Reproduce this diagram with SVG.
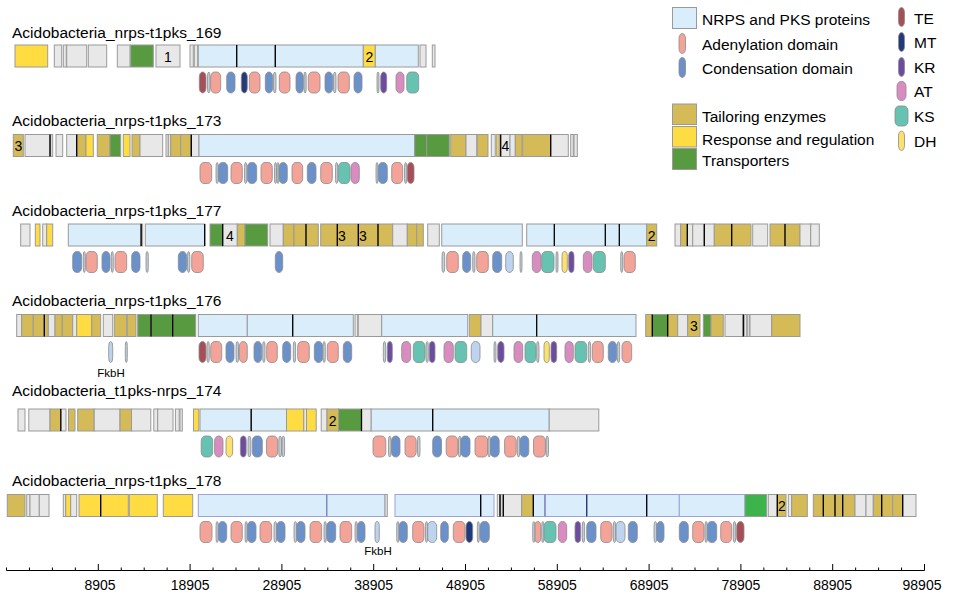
<svg xmlns="http://www.w3.org/2000/svg" width="955" height="601" viewBox="0 0 955 601">
<style>
text{font-family:"Liberation Sans",Arial,sans-serif;fill:#000}
.ttl{font-size:15.5px}
.lg{font-size:15.5px}
.num{font-size:14px;text-anchor:middle}
.fk{font-size:11.5px;text-anchor:middle}
.ax{font-size:14px;text-anchor:middle}
.gn rect{stroke:#9a9a9a;stroke-width:1}
.n{fill:#d9edfa}.x{fill:#e8e8e8}.t{fill:#d4bb57}.y{fill:#ffdc42}.r{fill:#579a40}.g2{fill:#3cb44b}
.nb{fill:#d9edfa;stroke:#9ea2d8!important}
.k{stroke:#000;stroke-width:1.3}
.kb{stroke:#7f82c4;stroke-width:1.3}
.kn{stroke:#22337a;stroke-width:1.3}
.dm rect{stroke:#8a8a8a;stroke-width:0.8}
.A{fill:#f4a398}.C{fill:#6b91ca}.TE{fill:#a64f58}.MT{fill:#223a7a}.KR{fill:#6d4c9f}.AT{fill:#d98cbf}.KS{fill:#66c3b1}.DH{fill:#fde16d}.L{fill:#bed3ee}.s{fill:#c3ced8}
.axl{stroke:#000;stroke-width:1}
</style>

<g id="legend">
  <g class="gn">
    <rect class="n" x="672.5" y="7.5" width="24" height="21"/>
    <rect class="t" x="672.5" y="104" width="24" height="20.5"/>
    <rect class="y" x="672.5" y="126.5" width="24" height="20.5"/>
    <rect class="r" x="672.5" y="148.5" width="24" height="21"/>
  </g>
  <g class="dm">
    <rect class="A" x="679" y="33.5" width="6.5" height="20" rx="3.2" ry="5"/>
    <rect class="C" x="679" y="57.5" width="6.5" height="20" rx="3.2" ry="5"/>
    <rect class="TE" x="898.5" y="7.5" width="6" height="19" rx="3" ry="5"/>
    <rect class="MT" x="898.5" y="32.5" width="6" height="19" rx="3" ry="5"/>
    <rect class="KR" x="898.5" y="57.5" width="6" height="19" rx="3" ry="5"/>
    <rect class="AT" x="897" y="81.5" width="9" height="19" rx="4" ry="5"/>
    <rect class="KS" x="895" y="106" width="13" height="20" rx="4" ry="5"/>
    <rect class="DH" x="898.5" y="131" width="6" height="19.5" rx="3" ry="5"/>
  </g>
  <text class="lg" x="702" y="25">NRPS and PKS proteins</text>
  <text class="lg" x="702" y="50">Adenylation domain</text>
  <text class="lg" x="702" y="74">Condensation domain</text>
  <text class="lg" x="702" y="122">Tailoring enzymes</text>
  <text class="lg" x="702" y="145">Response and regulation</text>
  <text class="lg" x="702" y="166">Transporters</text>
  <text class="lg" x="914" y="24">TE</text>
  <text class="lg" x="914" y="48">MT</text>
  <text class="lg" x="914" y="73">KR</text>
  <text class="lg" x="914" y="97">AT</text>
  <text class="lg" x="914" y="122">KS</text>
  <text class="lg" x="914" y="147">DH</text>
</g>

<!-- Track 1 -->
<g id="cluster-169">
  <text class="ttl" x="12" y="38">Acidobacteria_nrps-t1pks_169</text>
  <g class="gn" transform="translate(0,45)">
    <rect class="y" x="15" y="0" width="32.7" height="22"/>
    <rect class="x" x="54.3" y="0" width="7.4" height="22"/>
    <rect class="x" x="63.3" y="0" width="3" height="22"/>
    <rect class="x" x="66.7" y="0" width="20" height="22"/>
    <rect class="x" x="88.3" y="0" width="18.4" height="22"/>
    <rect class="x" x="117.3" y="0" width="12.7" height="22"/>
    <rect class="r" x="130.7" y="0" width="22.6" height="22"/>
    <rect class="x" x="156" y="0" width="24" height="22"/>
    <rect class="x" x="190" y="0" width="3.3" height="22"/>
    <rect class="x" x="194.3" y="0" width="3.4" height="22"/>
    <rect class="n" x="198.3" y="0" width="38.4" height="22"/>
    <rect class="n" x="236.7" y="0" width="38.6" height="22"/>
    <rect class="n" x="275.3" y="0" width="88" height="22"/>
    <rect class="y" x="363.3" y="0" width="12" height="22"/>
    <rect class="n" x="375.3" y="0" width="43" height="22"/>
    <rect class="x" x="420" y="0" width="6" height="22"/>
    <rect class="x" x="432.3" y="0" width="2.7" height="22"/>
    <line class="k" x1="236.7" y1="0" x2="236.7" y2="22"/>
    <line class="k" x1="275.3" y1="0" x2="275.3" y2="22"/>
    <text class="num" x="168" y="16.5">1</text>
    <text class="num" x="369.3" y="16.5">2</text>
  </g>
  <g class="dm" transform="translate(0,72)">
    <rect class="TE" x="199.3" y="0" width="6.7" height="21" rx="4" ry="5"/>
    <rect class="s" x="207.5" y="0" width="2.5" height="21" rx="4" ry="5"/>
    <rect class="A" x="210.7" y="0" width="10" height="21" rx="4" ry="5"/>
    <rect class="C" x="226.7" y="0" width="8.3" height="21" rx="4" ry="5"/>
    <rect class="MT" x="241.3" y="0" width="6" height="21" rx="4" ry="5"/>
    <rect class="A" x="249.3" y="0" width="10.7" height="21" rx="4" ry="5"/>
    <rect class="C" x="265.3" y="0" width="7.4" height="21" rx="4" ry="5"/>
    <rect class="s" x="273.5" y="0" width="2.5" height="21" rx="4" ry="5"/>
    <rect class="A" x="279.3" y="0" width="10.7" height="21" rx="4" ry="5"/>
    <rect class="C" x="296" y="0" width="7.3" height="21" rx="4" ry="5"/>
    <rect class="s" x="304" y="0" width="2.2" height="21" rx="4" ry="5"/>
    <rect class="A" x="308.3" y="0" width="11.7" height="21" rx="4" ry="5"/>
    <rect class="C" x="325" y="0" width="7.7" height="21" rx="4" ry="5"/>
    <rect class="s" x="333.5" y="0" width="2.5" height="21" rx="4" ry="5"/>
    <rect class="A" x="338" y="0" width="11.3" height="21" rx="4" ry="5"/>
    <rect class="C" x="354" y="0" width="8" height="21" rx="4" ry="5"/>
    <rect class="s" x="377" y="0" width="2" height="21" rx="4" ry="5"/>
    <rect class="KR" x="380.7" y="0" width="6" height="21" rx="4" ry="5"/>
    <rect class="AT" x="396" y="0" width="8" height="21" rx="4" ry="5"/>
    <rect class="KS" x="406.7" y="0" width="12" height="21" rx="4" ry="5"/>
  </g>
</g>

<!-- Track 2 -->
<g id="cluster-173">
  <text class="ttl" x="12" y="126">Acidobacteria_nrps-t1pks_173</text>
  <g class="gn" transform="translate(0,134.5)">
    <rect class="t" x="13.3" y="0" width="10" height="22"/>
    <rect class="x" x="25" y="0" width="25" height="22"/>
    <rect class="x" x="50.7" y="0" width="2" height="22"/>
    <rect class="x" x="56" y="0" width="6.7" height="22"/>
    <rect class="x" x="66.7" y="0" width="10" height="22"/>
    <rect class="t" x="76.7" y="0" width="9.3" height="22"/>
    <rect class="y" x="86" y="0" width="7.3" height="22"/>
    <rect class="t" x="97.3" y="0" width="12.7" height="22"/>
    <rect class="r" x="110" y="0" width="10.7" height="22"/>
    <rect class="y" x="123.3" y="0" width="6.7" height="22"/>
    <rect class="t" x="132" y="0" width="8" height="22"/>
    <rect class="x" x="140" y="0" width="22.7" height="22"/>
    <rect class="x" x="166" y="0" width="2.3" height="22"/>
    <rect class="x" x="168.3" y="0" width="2.4" height="22"/>
    <rect class="t" x="170.7" y="0" width="10" height="22"/>
    <rect class="t" x="180.7" y="0" width="10" height="22"/>
    <rect class="x" x="191.3" y="0" width="7.7" height="22"/>
    <rect class="n" x="199" y="0" width="215.7" height="22"/>
    <rect class="r" x="414.7" y="0" width="12" height="22"/>
    <rect class="r" x="426.7" y="0" width="22.6" height="22"/>
    <rect class="t" x="450.7" y="0" width="15.3" height="22"/>
    <rect class="x" x="466" y="0" width="10.7" height="22"/>
    <rect class="t" x="477.3" y="0" width="10.7" height="22"/>
    <rect class="x" x="491.3" y="0" width="4" height="22"/>
    <rect class="y" x="496.7" y="0" width="2.6" height="22"/>
    <rect class="x" x="499.3" y="0" width="10.7" height="22"/>
    <rect class="x" x="510" y="0" width="5.3" height="22"/>
    <rect class="t" x="515.3" y="0" width="6.7" height="22"/>
    <rect class="t" x="522.7" y="0" width="28" height="22"/>
    <rect class="x" x="550.7" y="0" width="17.6" height="22"/>
    <rect class="x" x="570.7" y="0" width="2.6" height="22"/>
    <rect class="x" x="574" y="0" width="3.3" height="22"/>
    <line class="k" x1="50" y1="0" x2="50" y2="22"/>
    <line class="k" x1="76.7" y1="0" x2="76.7" y2="22"/>
    <line class="k" x1="191.3" y1="0" x2="191.3" y2="22"/>
    <line class="k" x1="500.7" y1="0" x2="500.7" y2="22"/>
    <line class="k" x1="550.7" y1="0" x2="550.7" y2="22"/>
    <text class="num" x="18.3" y="16.5">3</text>
    <text class="num" x="505.5" y="16.5">4</text>
  </g>
  <g class="dm" transform="translate(0,162.5)">
    <rect class="A" x="200" y="0" width="11.7" height="21" rx="4" ry="5"/>
    <rect class="s" x="216" y="0" width="2.3" height="21" rx="4" ry="5"/>
    <rect class="C" x="218.3" y="0" width="9.4" height="21" rx="4" ry="5"/>
    <rect class="A" x="231" y="0" width="11.3" height="21" rx="4" ry="5"/>
    <rect class="s" x="244.5" y="0" width="2.3" height="21" rx="4" ry="5"/>
    <rect class="C" x="247.3" y="0" width="9.4" height="21" rx="4" ry="5"/>
    <rect class="A" x="261" y="0" width="11.3" height="21" rx="4" ry="5"/>
    <rect class="s" x="274.5" y="0" width="2" height="21" rx="4" ry="5"/>
    <rect class="s" x="277" y="0" width="2" height="21" rx="4" ry="5"/>
    <rect class="C" x="279" y="0" width="8.3" height="21" rx="4" ry="5"/>
    <rect class="A" x="292" y="0" width="10.7" height="21" rx="4" ry="5"/>
    <rect class="C" x="307.3" y="0" width="8.7" height="21" rx="4" ry="5"/>
    <rect class="A" x="320.7" y="0" width="11.6" height="21" rx="4" ry="5"/>
    <rect class="s" x="335.5" y="0" width="2.3" height="21" rx="4" ry="5"/>
    <rect class="KS" x="338.3" y="0" width="11.7" height="21" rx="4" ry="5"/>
    <rect class="AT" x="351" y="0" width="8.3" height="21" rx="4" ry="5"/>
    <rect class="s" x="376" y="0" width="2" height="21" rx="4" ry="5"/>
    <rect class="C" x="378.3" y="0" width="9" height="21" rx="4" ry="5"/>
    <rect class="A" x="391.7" y="0" width="11" height="21" rx="4" ry="5"/>
    <rect class="s" x="404.5" y="0" width="2.3" height="21" rx="4" ry="5"/>
    <rect class="TE" x="407.3" y="0" width="6.7" height="21" rx="4" ry="5"/>
  </g>
</g>

<!-- Track 3 -->
<g id="cluster-177">
  <text class="ttl" x="12" y="216">Acidobacteria_nrps-t1pks_177</text>
  <g class="gn" transform="translate(0,224)">
    <rect class="x" x="20.7" y="0" width="9.3" height="22"/>
    <rect class="y" x="35.3" y="0" width="4.7" height="22"/>
    <rect class="x" x="42.7" y="0" width="4" height="22"/>
    <rect class="y" x="46.7" y="0" width="6" height="22"/>
    <rect class="n" x="68.3" y="0" width="72.4" height="22"/>
    <rect class="x" x="140.7" y="0" width="2" height="22"/>
    <rect class="n" x="145.3" y="0" width="59.4" height="22"/>
    <rect class="r" x="210" y="0" width="12.7" height="22"/>
    <rect class="x" x="222.7" y="0" width="14.6" height="22"/>
    <rect class="t" x="237.3" y="0" width="7.7" height="22"/>
    <rect class="r" x="245" y="0" width="22.7" height="22"/>
    <rect class="x" x="270" y="0" width="13.3" height="22"/>
    <rect class="t" x="283.3" y="0" width="10.7" height="22"/>
    <rect class="t" x="294" y="0" width="12" height="22"/>
    <rect class="t" x="306" y="0" width="12.3" height="22"/>
    <rect class="t" x="320.7" y="0" width="16.6" height="22"/>
    <rect class="t" x="337.3" y="0" width="21" height="22"/>
    <rect class="t" x="358.3" y="0" width="19.7" height="22"/>
    <rect class="t" x="378" y="0" width="14.7" height="22"/>
    <rect class="x" x="392.7" y="0" width="14.6" height="22"/>
    <rect class="t" x="407.3" y="0" width="9.4" height="22"/>
    <rect class="t" x="416.7" y="0" width="6.6" height="22"/>
    <rect class="x" x="427.7" y="0" width="11.6" height="22"/>
    <rect class="n" x="441.7" y="0" width="80.6" height="22"/>
    <rect class="n" x="526.7" y="0" width="120" height="22"/>
    <rect class="t" x="646.7" y="0" width="10" height="22"/>
    <rect class="x" x="675" y="0" width="5.7" height="22"/>
    <rect class="t" x="680.7" y="0" width="6.6" height="22"/>
    <rect class="x" x="687.3" y="0" width="5.4" height="22"/>
    <rect class="x" x="692.7" y="0" width="11.6" height="22"/>
    <rect class="x" x="704.3" y="0" width="10" height="22"/>
    <rect class="t" x="714.3" y="0" width="17.4" height="22"/>
    <rect class="t" x="731.7" y="0" width="19.3" height="22"/>
    <rect class="x" x="752.7" y="0" width="15" height="22"/>
    <rect class="t" x="770" y="0" width="15" height="22"/>
    <rect class="t" x="785" y="0" width="15" height="22"/>
    <rect class="x" x="800" y="0" width="10.7" height="22"/>
    <rect class="x" x="810.7" y="0" width="8.6" height="22"/>
    <line class="k" x1="141.2" y1="0" x2="141.2" y2="22"/>
    <line class="k" x1="204.7" y1="0" x2="204.7" y2="22"/>
    <line class="k" x1="222.7" y1="0" x2="222.7" y2="22"/>
    <line class="k" x1="306" y1="0" x2="306" y2="22"/>
    <line class="k" x1="337.3" y1="0" x2="337.3" y2="22"/>
    <line class="k" x1="358.3" y1="0" x2="358.3" y2="22"/>
    <line class="k" x1="378" y1="0" x2="378" y2="22"/>
    <line class="k" x1="554.3" y1="0" x2="554.3" y2="22"/>
    <line class="k" x1="605.3" y1="0" x2="605.3" y2="22"/>
    <line class="k" x1="619.3" y1="0" x2="619.3" y2="22"/>
    <line class="k" x1="687.3" y1="0" x2="687.3" y2="22"/>
    <line class="k" x1="704.3" y1="0" x2="704.3" y2="22"/>
    <line class="k" x1="731.7" y1="0" x2="731.7" y2="22"/>
    <line class="k" x1="785" y1="0" x2="785" y2="22"/>
    <text class="num" x="230" y="16.5">4</text>
    <text class="num" x="342" y="16.5">3</text>
    <text class="num" x="363" y="16.5">3</text>
    <text class="num" x="651.7" y="16.5">2</text>
  </g>
  <g class="dm" transform="translate(0,251.5)">
    <rect class="C" x="72.7" y="0" width="9" height="21" rx="4" ry="5"/>
    <rect class="s" x="83.3" y="0" width="2" height="21" rx="4" ry="5"/>
    <rect class="A" x="86" y="0" width="11.3" height="21" rx="4" ry="5"/>
    <rect class="C" x="102" y="0" width="8" height="21" rx="4" ry="5"/>
    <rect class="s" x="111.3" y="0" width="2" height="21" rx="4" ry="5"/>
    <rect class="A" x="115" y="0" width="11.7" height="21" rx="4" ry="5"/>
    <rect class="C" x="131.7" y="0" width="8.3" height="21" rx="4" ry="5"/>
    <rect class="s" x="146" y="0" width="2.3" height="21" rx="4" ry="5"/>
    <rect class="C" x="178.3" y="0" width="8.4" height="21" rx="4" ry="5"/>
    <rect class="s" x="187.5" y="0" width="2.3" height="21" rx="4" ry="5"/>
    <rect class="A" x="191.7" y="0" width="11.6" height="21" rx="4" ry="5"/>
    <rect class="C" x="275.3" y="0" width="7.4" height="21" rx="4" ry="5"/>
    <rect class="s" x="442" y="0" width="2.7" height="21" rx="4" ry="5"/>
    <rect class="A" x="446.7" y="0" width="11.6" height="21" rx="4" ry="5"/>
    <rect class="C" x="462.7" y="0" width="8" height="21" rx="4" ry="5"/>
    <rect class="s" x="472.7" y="0" width="2.3" height="21" rx="4" ry="5"/>
    <rect class="A" x="476.7" y="0" width="11.6" height="21" rx="4" ry="5"/>
    <rect class="C" x="492.7" y="0" width="9" height="21" rx="4" ry="5"/>
    <rect class="L" x="505.7" y="0" width="7.6" height="21" rx="4" ry="5"/>
    <rect class="s" x="520" y="0" width="2" height="21" rx="4" ry="5"/>
    <rect class="AT" x="532.3" y="0" width="8.7" height="21" rx="4" ry="5"/>
    <rect class="KS" x="541.7" y="0" width="12.3" height="21" rx="4" ry="5"/>
    <rect class="s" x="556" y="0" width="2" height="21" rx="4" ry="5"/>
    <rect class="DH" x="562" y="0" width="5.3" height="21" rx="4" ry="5"/>
    <rect class="KR" x="568.7" y="0" width="5.3" height="21" rx="4" ry="5"/>
    <rect class="AT" x="583.3" y="0" width="8.7" height="21" rx="4" ry="5"/>
    <rect class="KS" x="593.3" y="0" width="12" height="21" rx="4" ry="5"/>
    <rect class="s" x="620.7" y="0" width="2" height="21" rx="4" ry="5"/>
    <rect class="A" x="624" y="0" width="11.3" height="21" rx="4" ry="5"/>
  </g>
</g>

<!-- Track 4 -->
<g id="cluster-176">
  <text class="ttl" x="12" y="306">Acidobacteria_nrps-t1pks_176</text>
  <g class="gn" transform="translate(0,314.5)">
    <rect class="x" x="16.7" y="0" width="5" height="22"/>
    <rect class="t" x="21.7" y="0" width="11.6" height="22"/>
    <rect class="t" x="33.3" y="0" width="11" height="22"/>
    <rect class="t" x="44.3" y="0" width="4" height="22"/>
    <rect class="x" x="48.3" y="0" width="6.7" height="22"/>
    <rect class="t" x="55" y="0" width="7.3" height="22"/>
    <rect class="t" x="62.3" y="0" width="10.4" height="22"/>
    <rect class="x" x="72.7" y="0" width="4" height="22"/>
    <rect class="y" x="76.7" y="0" width="15" height="22"/>
    <rect class="t" x="91.7" y="0" width="9" height="22"/>
    <rect class="x" x="103.3" y="0" width="9.4" height="22"/>
    <rect class="t" x="114.3" y="0" width="12.4" height="22"/>
    <rect class="t" x="127.3" y="0" width="8.7" height="22"/>
    <rect class="r" x="137.7" y="0" width="13.3" height="22"/>
    <rect class="r" x="151" y="0" width="21.7" height="22"/>
    <rect class="r" x="172.7" y="0" width="23" height="22"/>
    <rect class="n" x="198.3" y="0" width="49" height="22"/>
    <rect class="n" x="247.3" y="0" width="45.4" height="22"/>
    <rect class="n" x="292.7" y="0" width="60.6" height="22"/>
    <rect class="x" x="355" y="0" width="2.7" height="22"/>
    <rect class="x" x="358.3" y="0" width="23.4" height="22"/>
    <rect class="n" x="381.7" y="0" width="86" height="22"/>
    <rect class="t" x="469.3" y="0" width="11.7" height="22"/>
    <rect class="x" x="481" y="0" width="11.7" height="22"/>
    <rect class="n" x="492.7" y="0" width="143.3" height="22"/>
    <rect class="t" x="645.7" y="0" width="6.6" height="22"/>
    <rect class="r" x="652.3" y="0" width="15.4" height="22"/>
    <rect class="t" x="667.7" y="0" width="10" height="22"/>
    <rect class="x" x="677.7" y="0" width="10" height="22"/>
    <rect class="t" x="687.7" y="0" width="12.3" height="22"/>
    <rect class="r" x="703.3" y="0" width="7.7" height="22"/>
    <rect class="t" x="711" y="0" width="12.3" height="22"/>
    <rect class="x" x="725" y="0" width="18.3" height="22"/>
    <rect class="x" x="744.3" y="0" width="2.4" height="22"/>
    <rect class="x" x="747.3" y="0" width="2" height="22"/>
    <rect class="x" x="750" y="0" width="21.7" height="22"/>
    <rect class="t" x="771.7" y="0" width="28.3" height="22"/>
    <line class="k" x1="44.3" y1="0" x2="44.3" y2="22"/>
    <line class="k" x1="151" y1="0" x2="151" y2="22"/>
    <line class="k" x1="172.7" y1="0" x2="172.7" y2="22"/>
    <line class="k" x1="292.7" y1="0" x2="292.7" y2="22"/>
    <line class="k" x1="536.7" y1="0" x2="536.7" y2="22"/>
    <line class="k" x1="652.3" y1="0" x2="652.3" y2="22"/>
    <line class="k" x1="667.7" y1="0" x2="667.7" y2="22"/>
    <line class="k" x1="743.3" y1="0" x2="743.3" y2="22"/>
    <text class="num" x="693.8" y="16.5">3</text>
  </g>
  <g class="dm" transform="translate(0,341.5)">
    <rect class="L" x="108.7" y="0" width="4" height="21" rx="4" ry="5"/>
    <rect class="s" x="125.3" y="0" width="2" height="21" rx="4" ry="5"/>
    <rect class="TE" x="199" y="0" width="7" height="21" rx="4" ry="5"/>
    <rect class="s" x="207" y="0" width="2.3" height="21" rx="4" ry="5"/>
    <rect class="A" x="210.7" y="0" width="11" height="21" rx="4" ry="5"/>
    <rect class="C" x="226" y="0" width="8" height="21" rx="4" ry="5"/>
    <rect class="s" x="236" y="0" width="2.5" height="21" rx="4" ry="5"/>
    <rect class="A" x="239.3" y="0" width="8" height="21" rx="4" ry="5"/>
    <rect class="C" x="254" y="0" width="7.7" height="21" rx="4" ry="5"/>
    <rect class="s" x="262.7" y="0" width="2.3" height="21" rx="4" ry="5"/>
    <rect class="A" x="266.7" y="0" width="10.6" height="21" rx="4" ry="5"/>
    <rect class="C" x="282.7" y="0" width="8" height="21" rx="4" ry="5"/>
    <rect class="s" x="293.3" y="0" width="2.3" height="21" rx="4" ry="5"/>
    <rect class="A" x="297.7" y="0" width="11.6" height="21" rx="4" ry="5"/>
    <rect class="C" x="314.3" y="0" width="8.4" height="21" rx="4" ry="5"/>
    <rect class="s" x="323" y="0" width="2.3" height="21" rx="4" ry="5"/>
    <rect class="A" x="327.3" y="0" width="11" height="21" rx="4" ry="5"/>
    <rect class="C" x="343.3" y="0" width="8.4" height="21" rx="4" ry="5"/>
    <rect class="s" x="383.3" y="0" width="2.4" height="21" rx="4" ry="5"/>
    <rect class="KR" x="387.3" y="0" width="5" height="21" rx="4" ry="5"/>
    <rect class="AT" x="401.7" y="0" width="9" height="21" rx="4" ry="5"/>
    <rect class="KS" x="413.3" y="0" width="11.7" height="21" rx="4" ry="5"/>
    <rect class="s" x="426" y="0" width="2.3" height="21" rx="4" ry="5"/>
    <rect class="KR" x="429.3" y="0" width="5.7" height="21" rx="4" ry="5"/>
    <rect class="AT" x="444" y="0" width="9.3" height="21" rx="4" ry="5"/>
    <rect class="KS" x="455" y="0" width="11.7" height="21" rx="4" ry="5"/>
    <rect class="L" x="471.3" y="0" width="8.7" height="21" rx="4" ry="5"/>
    <rect class="s" x="494" y="0" width="2" height="21" rx="4" ry="5"/>
    <rect class="KR" x="497.7" y="0" width="6.3" height="21" rx="4" ry="5"/>
    <rect class="AT" x="514" y="0" width="8.7" height="21" rx="4" ry="5"/>
    <rect class="KS" x="525" y="0" width="11" height="21" rx="4" ry="5"/>
    <rect class="s" x="536.7" y="0" width="2.3" height="21" rx="4" ry="5"/>
    <rect class="DH" x="544" y="0" width="5.3" height="21" rx="4" ry="5"/>
    <rect class="KR" x="551" y="0" width="5.7" height="21" rx="4" ry="5"/>
    <rect class="AT" x="565" y="0" width="8.3" height="21" rx="4" ry="5"/>
    <rect class="KS" x="575" y="0" width="11.7" height="21" rx="4" ry="5"/>
    <rect class="s" x="588.3" y="0" width="2.3" height="21" rx="4" ry="5"/>
    <rect class="A" x="592.3" y="0" width="11" height="21" rx="4" ry="5"/>
    <rect class="C" x="608.3" y="0" width="8.4" height="21" rx="4" ry="5"/>
    <rect class="s" x="617.3" y="0" width="2.4" height="21" rx="4" ry="5"/>
    <rect class="A" x="622" y="0" width="9.7" height="21" rx="4" ry="5"/>
  </g>
  <text class="fk" x="111" y="377">FkbH</text>
</g>

<!-- Track 5 -->
<g id="cluster-174">
  <text class="ttl" x="12" y="396">Acidobacteria_t1pks-nrps_174</text>
  <g class="gn" transform="translate(0,409)">
    <rect class="x" x="18" y="0" width="7" height="22"/>
    <rect class="x" x="28.8" y="0" width="21.2" height="22"/>
    <rect class="t" x="50" y="0" width="10.8" height="22"/>
    <rect class="x" x="60.8" y="0" width="5.2" height="22"/>
    <rect class="t" x="68.5" y="0" width="6.5" height="22"/>
    <rect class="t" x="77.7" y="0" width="16.5" height="22"/>
    <rect class="x" x="94.2" y="0" width="25.8" height="22"/>
    <rect class="t" x="120" y="0" width="11.5" height="22"/>
    <rect class="x" x="131.5" y="0" width="19.3" height="22"/>
    <rect class="x" x="153.8" y="0" width="3.9" height="22"/>
    <rect class="x" x="157.7" y="0" width="15.3" height="22"/>
    <rect class="x" x="175.4" y="0" width="3.8" height="22"/>
    <rect class="x" x="180" y="0" width="2.3" height="22"/>
    <rect class="y" x="193.5" y="0" width="5.3" height="22"/>
    <rect class="n" x="200" y="0" width="51.2" height="22"/>
    <rect class="n" x="251.2" y="0" width="35.3" height="22"/>
    <rect class="y" x="286.5" y="0" width="17.3" height="22"/>
    <rect class="x" x="303.8" y="0" width="2.7" height="22"/>
    <rect class="y" x="306.5" y="0" width="9.7" height="22"/>
    <rect class="x" x="321.2" y="0" width="5.8" height="22"/>
    <rect class="t" x="327" y="0" width="11.5" height="22"/>
    <rect class="r" x="338.5" y="0" width="23" height="22"/>
    <rect class="x" x="361.5" y="0" width="9.7" height="22"/>
    <rect class="n" x="371.2" y="0" width="61.5" height="22"/>
    <rect class="n" x="432.7" y="0" width="116.5" height="22"/>
    <rect class="x" x="549.2" y="0" width="49.6" height="22"/>
    <line class="k" x1="60.8" y1="0" x2="60.8" y2="22"/>
    <line class="k" x1="251.2" y1="0" x2="251.2" y2="22"/>
    <line class="k" x1="361.5" y1="0" x2="361.5" y2="22"/>
    <line class="k" x1="432.7" y1="0" x2="432.7" y2="22"/>
    <text class="num" x="332.7" y="16.5">2</text>
  </g>
  <g class="dm" transform="translate(0,436)">
    <rect class="KS" x="201.2" y="0" width="11.5" height="21" rx="4" ry="5"/>
    <rect class="AT" x="214.6" y="0" width="8.4" height="21" rx="4" ry="5"/>
    <rect class="DH" x="226" y="0" width="6.7" height="21" rx="4" ry="5"/>
    <rect class="KR" x="240.4" y="0" width="5.8" height="21" rx="4" ry="5"/>
    <rect class="s" x="248" y="0" width="2.8" height="21" rx="4" ry="5"/>
    <rect class="C" x="252.3" y="0" width="10" height="21" rx="4" ry="5"/>
    <rect class="A" x="266.5" y="0" width="11.2" height="21" rx="4" ry="5"/>
    <rect class="s" x="278.8" y="0" width="2.7" height="21" rx="4" ry="5"/>
    <rect class="s" x="282" y="0" width="2.6" height="21" rx="4" ry="5"/>
    <rect class="A" x="373" y="0" width="12.8" height="21" rx="4" ry="5"/>
    <rect class="s" x="388.5" y="0" width="2.5" height="21" rx="4" ry="5"/>
    <rect class="C" x="391.5" y="0" width="8.5" height="21" rx="4" ry="5"/>
    <rect class="A" x="405" y="0" width="11.2" height="21" rx="4" ry="5"/>
    <rect class="s" x="417.5" y="0" width="2.5" height="21" rx="4" ry="5"/>
    <rect class="C" x="432.7" y="0" width="8.8" height="21" rx="4" ry="5"/>
    <rect class="A" x="446.2" y="0" width="11.5" height="21" rx="4" ry="5"/>
    <rect class="s" x="458.5" y="0" width="2.3" height="21" rx="4" ry="5"/>
    <rect class="C" x="460.8" y="0" width="9.2" height="21" rx="4" ry="5"/>
    <rect class="A" x="475" y="0" width="12.7" height="21" rx="4" ry="5"/>
    <rect class="s" x="488" y="0" width="2.4" height="21" rx="4" ry="5"/>
    <rect class="C" x="490.4" y="0" width="8.8" height="21" rx="4" ry="5"/>
    <rect class="A" x="504.6" y="0" width="11.6" height="21" rx="4" ry="5"/>
    <rect class="s" x="517.3" y="0" width="2.5" height="21" rx="4" ry="5"/>
    <rect class="C" x="520" y="0" width="8.8" height="21" rx="4" ry="5"/>
    <rect class="A" x="533.5" y="0" width="11.9" height="21" rx="4" ry="5"/>
    <rect class="s" x="546" y="0" width="2.5" height="21" rx="4" ry="5"/>
  </g>
</g>

<!-- Track 6 -->
<g id="cluster-178">
  <text class="ttl" x="12" y="486">Acidobacteria_nrps-t1pks_178</text>
  <g class="gn" transform="translate(0,494.5)">
    <rect class="t" x="7.3" y="0" width="17.7" height="22"/>
    <rect class="x" x="26.7" y="0" width="3.3" height="22"/>
    <rect class="x" x="30" y="0" width="9.3" height="22"/>
    <rect class="x" x="39.3" y="0" width="9.7" height="22"/>
    <rect class="x" x="63.3" y="0" width="2.4" height="22"/>
    <rect class="y" x="65.7" y="0" width="5" height="22"/>
    <rect class="x" x="70.7" y="0" width="6" height="22"/>
    <rect class="y" x="79" y="0" width="21.7" height="22"/>
    <rect class="y" x="100.7" y="0" width="27.6" height="22"/>
    <rect class="y" x="129.3" y="0" width="28" height="22"/>
    <rect class="y" x="163.3" y="0" width="29.4" height="22"/>
    <rect class="nb" x="198.3" y="0" width="128.4" height="22"/>
    <rect class="nb" x="326.7" y="0" width="58.3" height="22"/>
    <rect class="x" x="385" y="0" width="2.3" height="22"/>
    <rect class="nb" x="395" y="0" width="85.7" height="22"/>
    <rect class="nb" x="480.7" y="0" width="13.3" height="22"/>
    <rect class="x" x="497.3" y="0" width="2.7" height="22"/>
    <rect class="x" x="500.7" y="0" width="2.6" height="22"/>
    <rect class="x" x="503.3" y="0" width="18.4" height="22"/>
    <rect class="t" x="521.7" y="0" width="11.6" height="22"/>
    <rect class="nb" x="533.3" y="0" width="11.7" height="22"/>
    <rect class="nb" x="545" y="0" width="41.7" height="22"/>
    <rect class="nb" x="586.7" y="0" width="60" height="22"/>
    <rect class="nb" x="646.7" y="0" width="32.6" height="22"/>
    <rect class="nb" x="679.3" y="0" width="65.7" height="22"/>
    <rect class="g2" x="745" y="0" width="21.7" height="22"/>
    <rect class="x" x="768.3" y="0" width="9" height="22"/>
    <rect class="t" x="777.3" y="0" width="8.7" height="22"/>
    <rect class="x" x="788.3" y="0" width="3.4" height="22"/>
    <rect class="t" x="791.7" y="0" width="15.6" height="22"/>
    <rect class="t" x="813.3" y="0" width="10" height="22"/>
    <rect class="t" x="823.3" y="0" width="11.7" height="22"/>
    <rect class="t" x="835" y="0" width="7.7" height="22"/>
    <rect class="t" x="842.7" y="0" width="12.3" height="22"/>
    <rect class="x" x="855" y="0" width="11" height="22"/>
    <rect class="x" x="866" y="0" width="7.3" height="22"/>
    <rect class="t" x="873.3" y="0" width="8.4" height="22"/>
    <rect class="t" x="881.7" y="0" width="11" height="22"/>
    <rect class="t" x="892.7" y="0" width="10" height="22"/>
    <rect class="x" x="902.7" y="0" width="13.3" height="22"/>
    <line class="k" x1="100.7" y1="0" x2="100.7" y2="22"/>
    <line class="kb" x1="326.7" y1="0" x2="326.7" y2="22"/>
    <line class="k" x1="480.7" y1="0" x2="480.7" y2="22"/>
    <line class="k" x1="500" y1="0" x2="500" y2="22"/>
    <line class="k" x1="503.3" y1="0" x2="503.3" y2="22"/>
    <line class="k" x1="533.3" y1="0" x2="533.3" y2="22"/>
    <line class="kb" x1="545" y1="0" x2="545" y2="22"/>
    <line class="kn" x1="586.7" y1="0" x2="586.7" y2="22"/>
    <line class="k" x1="646.7" y1="0" x2="646.7" y2="22"/>
    <line class="k" x1="777.3" y1="0" x2="777.3" y2="22"/>
    <line class="k" x1="823.3" y1="0" x2="823.3" y2="22"/>
    <line class="k" x1="835" y1="0" x2="835" y2="22"/>
    <line class="k" x1="842.7" y1="0" x2="842.7" y2="22"/>
    <line class="k" x1="881.7" y1="0" x2="881.7" y2="22"/>
    <line class="k" x1="902.7" y1="0" x2="902.7" y2="22"/>
    <text class="num" x="782" y="16.5">2</text>
  </g>
  <g class="dm" transform="translate(0,521.5)">
    <rect class="A" x="200" y="0" width="12" height="21" rx="4" ry="5"/>
    <rect class="s" x="216" y="0" width="2.3" height="21" rx="4" ry="5"/>
    <rect class="C" x="218.3" y="0" width="8.4" height="21" rx="4" ry="5"/>
    <rect class="A" x="231" y="0" width="11.3" height="21" rx="4" ry="5"/>
    <rect class="s" x="245" y="0" width="2.3" height="21" rx="4" ry="5"/>
    <rect class="C" x="247.3" y="0" width="8.7" height="21" rx="4" ry="5"/>
    <rect class="A" x="260" y="0" width="11.7" height="21" rx="4" ry="5"/>
    <rect class="s" x="274" y="0" width="2.7" height="21" rx="4" ry="5"/>
    <rect class="C" x="276.7" y="0" width="8.3" height="21" rx="4" ry="5"/>
    <rect class="s" x="294" y="0" width="2.7" height="21" rx="4" ry="5"/>
    <rect class="C" x="296.7" y="0" width="8.3" height="21" rx="4" ry="5"/>
    <rect class="A" x="310" y="0" width="11.7" height="21" rx="4" ry="5"/>
    <rect class="s" x="324" y="0" width="2.3" height="21" rx="4" ry="5"/>
    <rect class="C" x="326.7" y="0" width="9" height="21" rx="4" ry="5"/>
    <rect class="A" x="340" y="0" width="11.7" height="21" rx="4" ry="5"/>
    <rect class="s" x="355" y="0" width="2.3" height="21" rx="4" ry="5"/>
    <rect class="C" x="357.3" y="0" width="7.7" height="21" rx="4" ry="5"/>
    <rect class="L" x="375" y="0" width="4.3" height="21" rx="4" ry="5"/>
    <rect class="s" x="396.7" y="0" width="2.3" height="21" rx="4" ry="5"/>
    <rect class="C" x="399" y="0" width="8.3" height="21" rx="4" ry="5"/>
    <rect class="A" x="412.7" y="0" width="11.3" height="21" rx="4" ry="5"/>
    <rect class="s" x="425.5" y="0" width="2" height="21" rx="4" ry="5"/>
    <rect class="L" x="427.7" y="0" width="9" height="21" rx="4" ry="5"/>
    <rect class="C" x="440.7" y="0" width="7.6" height="21" rx="4" ry="5"/>
    <rect class="A" x="453.3" y="0" width="11.7" height="21" rx="4" ry="5"/>
    <rect class="MT" x="466" y="0" width="6.7" height="21" rx="4" ry="5"/>
    <rect class="s" x="477.3" y="0" width="2" height="21" rx="4" ry="5"/>
    <rect class="C" x="480" y="0" width="9.3" height="21" rx="4" ry="5"/>
    <rect class="s" x="532.7" y="0" width="2.3" height="21" rx="4" ry="5"/>
    <rect class="A" x="535" y="0" width="5.7" height="21" rx="4" ry="5"/>
    <rect class="s" x="541.7" y="0" width="2.3" height="21" rx="4" ry="5"/>
    <rect class="KS" x="544" y="0" width="12" height="21" rx="4" ry="5"/>
    <rect class="AT" x="558.3" y="0" width="8.4" height="21" rx="4" ry="5"/>
    <rect class="KR" x="575" y="0" width="5.7" height="21" rx="4" ry="5"/>
    <rect class="s" x="582.3" y="0" width="2.3" height="21" rx="4" ry="5"/>
    <rect class="C" x="586.7" y="0" width="9.3" height="21" rx="4" ry="5"/>
    <rect class="A" x="600.7" y="0" width="11.3" height="21" rx="4" ry="5"/>
    <rect class="s" x="613.3" y="0" width="2.3" height="21" rx="4" ry="5"/>
    <rect class="L" x="616" y="0" width="9" height="21" rx="4" ry="5"/>
    <rect class="C" x="628.3" y="0" width="9" height="21" rx="4" ry="5"/>
    <rect class="s" x="654" y="0" width="2.7" height="21" rx="4" ry="5"/>
    <rect class="C" x="656.7" y="0" width="7.3" height="21" rx="4" ry="5"/>
    <rect class="C" x="679.3" y="0" width="9" height="21" rx="4" ry="5"/>
    <rect class="A" x="692.7" y="0" width="11.3" height="21" rx="4" ry="5"/>
    <rect class="s" x="705" y="0" width="2.3" height="21" rx="4" ry="5"/>
    <rect class="C" x="707.3" y="0" width="9.4" height="21" rx="4" ry="5"/>
    <rect class="A" x="720.7" y="0" width="11" height="21" rx="4" ry="5"/>
    <rect class="s" x="733.3" y="0" width="2.4" height="21" rx="4" ry="5"/>
    <rect class="TE" x="736.7" y="0" width="7.3" height="21" rx="4" ry="5"/>
  </g>
  <text class="fk" x="378" y="555">FkbH</text>
</g>

<g id="connectors"></g>

<g id="axis">
  <line class="axl" x1="6.5" y1="570.5" x2="924.5" y2="570.5"/>
  <path class="axl" fill="none" d="M6.5 567.5v3M29.45 567.5v3M52.4 567.5v3M75.35 567.5v3M121.25 567.5v3M144.2 567.5v3M167.15 567.5v3M213.05 567.5v3M236 567.5v3M258.95 567.5v3M304.85 567.5v3M327.8 567.5v3M350.75 567.5v3M396.65 567.5v3M419.6 567.5v3M442.55 567.5v3M488.45 567.5v3M511.4 567.5v3M534.35 567.5v3M580.25 567.5v3M603.2 567.5v3M626.15 567.5v3M672.05 567.5v3M695 567.5v3M717.95 567.5v3M763.85 567.5v3M786.8 567.5v3M809.75 567.5v3M855.65 567.5v3M878.6 567.5v3M901.55 567.5v3"/>
  <path class="axl" fill="none" d="M98.3 564v6.5M190.1 564v6.5M281.9 564v6.5M373.7 564v6.5M465.5 564v6.5M557.3 564v6.5M649.1 564v6.5M740.9 564v6.5M832.7 564v6.5M924.5 564v6.5"/>
  <text class="ax" x="100" y="590">8905</text>
  <text class="ax" x="190.1" y="590">18905</text>
  <text class="ax" x="281.9" y="590">28905</text>
  <text class="ax" x="373.7" y="590">38905</text>
  <text class="ax" x="465.5" y="590">48905</text>
  <text class="ax" x="557.3" y="590">58905</text>
  <text class="ax" x="649.1" y="590">68905</text>
  <text class="ax" x="740.9" y="590">78905</text>
  <text class="ax" x="832.7" y="590">88905</text>
  <text class="ax" x="922" y="590">98905</text>
</g>
</svg>
